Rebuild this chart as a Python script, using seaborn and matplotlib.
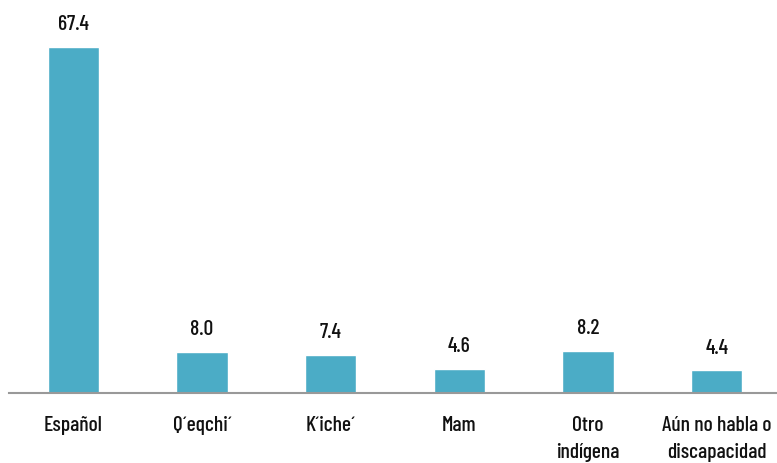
import matplotlib
matplotlib.use("Agg")
import matplotlib.pyplot as plt
import seaborn as sns
import pandas as pd

categories = ["Español", "Q´eqchi´", "K´iche´", "Mam", "Otro\nindígena", "Aún no habla o\ndiscapacidad"]
values = [67.4, 8.0, 7.4, 4.6, 8.2, 4.4]

sns.set_style("white")
plt.rcParams["font.family"] = ["Barlow Condensed", "DejaVu Sans"]
plt.rcParams["font.weight"] = 500

df = pd.DataFrame({"idioma": categories, "pct": values})

fig = plt.figure(figsize=(7.77, 4.64), dpi=100)
ax = fig.add_axes([9 / 777, 70 / 464, 772 / 777, 394 / 464])
sns.barplot(data=df, x="idioma", y="pct", color="#4BACC6", saturation=1, width=0.4, ax=ax)

ax.bar_label(ax.containers[0], fmt="%.1f", padding=10, fontsize=15.5, color="#111111")

ax.set_ylim(0, 76.74)
ax.set_xlim(-0.5, 5.5)
ax.set_xlabel("")
ax.set_ylabel("")
ax.set_yticks([])
ax.tick_params(axis="x", length=0, pad=16, labelsize=15.5, labelcolor="#111111")
for lab in ax.get_xticklabels():
    lab.set_linespacing(1.55)
for s in ["top", "right", "left"]:
    ax.spines[s].set_visible(False)
ax.spines["bottom"].set_color("#999999")
ax.spines["bottom"].set_linewidth(1.5)

fig.savefig("out.png", dpi=100)
